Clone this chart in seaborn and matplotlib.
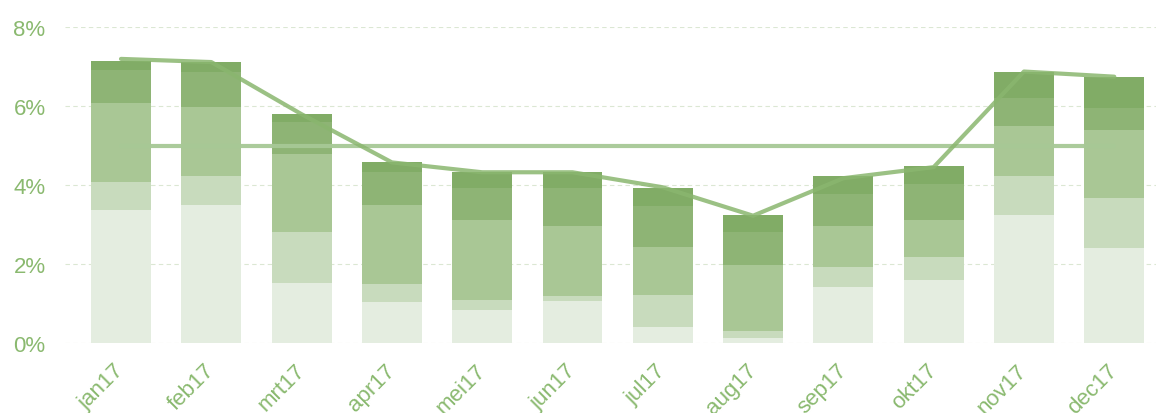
import numpy as np
import pandas as pd
import matplotlib
matplotlib.use("Agg")
import matplotlib.pyplot as plt
import seaborn as sns

# Configuration
DPI = 100
FIGSIZE = (11.56, 4.14)
FONT_SIZE = 16
TEXT_COLOR = "#8ab96f"
GRID_COLOR = "#dbe7d3"
LINE_COLOR = "#8ab66f"
TARGET_COLOR = "#a7c996"
BAR_WIDTH = 0.664
# bottom (lightest) to top (darkest)
SEGMENT_COLORS = ["#e4ede0", "#c8dbbd", "#a9c795", "#8eb475", "#81ac66"]

# Data (percent)
months = ["jan17", "feb17", "mrt17", "apr17", "mei17", "jun17",
          "jul17", "aug17", "sep17", "okt17", "nov17", "dec17"]
seg_1 = [3.37, 3.51, 1.53, 1.04, 0.84, 1.08, 0.42, 0.13, 1.43, 1.59, 3.26, 2.41]
seg_2 = [0.71, 0.72, 1.28, 0.45, 0.25, 0.11, 0.81, 0.19, 0.51, 0.60, 0.97, 1.26]
seg_3 = [2.01, 1.76, 1.97, 2.02, 2.02, 1.77, 1.22, 1.67, 1.02, 0.92, 1.26, 1.72]
seg_4 = [0.83, 0.87, 0.82, 0.82, 0.82, 0.97, 1.02, 0.82, 0.82, 0.92, 0.71, 0.57]
seg_5 = [0.23, 0.25, 0.20, 0.25, 0.40, 0.40, 0.45, 0.45, 0.45, 0.45, 0.66, 0.79]
trend = [7.20, 7.12, 5.80, 4.58, 4.33, 4.33, 3.95, 3.23, 4.18, 4.46, 6.88, 6.75]
TARGET = 5.0
y_ticks = [0, 2, 4, 6, 8]

sns.set_theme(style="white")
plt.rcParams["font.family"] = ["Liberation Sans", "DejaVu Sans"]

segments = [seg_1, seg_2, seg_3, seg_4, seg_5]
cum = np.cumsum(np.array(segments), axis=0)
df = pd.DataFrame({"month": months})
for k in range(len(segments)):
    df[f"cum{k}"] = cum[k]

fig = plt.figure(figsize=FIGSIZE, dpi=DPI)
ax = fig.add_axes([65 / 1156, (414 - 344.3) / 414, 1 - 65 / 1156, (344.3 - 28.3) / 414])

# draw the stack top-down so lower layers cover upper ones
for k in reversed(range(len(segments))):
    sns.barplot(data=df, x="month", y=f"cum{k}", order=months, color=SEGMENT_COLORS[k],
                saturation=1, width=BAR_WIDTH, linewidth=0, edgecolor="none", ax=ax, zorder=2)

xs = np.arange(len(months))
sns.lineplot(x=xs, y=[TARGET] * len(months), color=TARGET_COLOR, linewidth=3.0,
             alpha=0.95, ax=ax, zorder=3)
sns.lineplot(x=xs, y=trend, color=LINE_COLOR, linewidth=3.0, alpha=0.85, ax=ax, zorder=4)

ax.set_xlim(-0.620, 11.462)
ax.set_ylim(0, 8)
ax.set_yticks(y_ticks)
ax.set_yticklabels([f"{t}%" for t in y_ticks])
ax.set_xlabel("")
ax.set_ylabel("")
ax.yaxis.grid(True, color=GRID_COLOR, linestyle=(0, (4, 3)), linewidth=0.8, zorder=0)
ax.set_axisbelow(True)
for s in ax.spines.values():
    s.set_visible(False)

ax.tick_params(axis="y", length=0, pad=14, labelsize=FONT_SIZE, labelcolor=TEXT_COLOR)
ax.tick_params(axis="x", length=0, pad=17, labelsize=FONT_SIZE, labelcolor=TEXT_COLOR)
ax.set_xticks(xs)
ax.set_xticklabels(months, rotation=45, ha="right", va="center", rotation_mode="anchor")

fig.savefig("out.png", dpi=DPI)
plt.close(fig)
